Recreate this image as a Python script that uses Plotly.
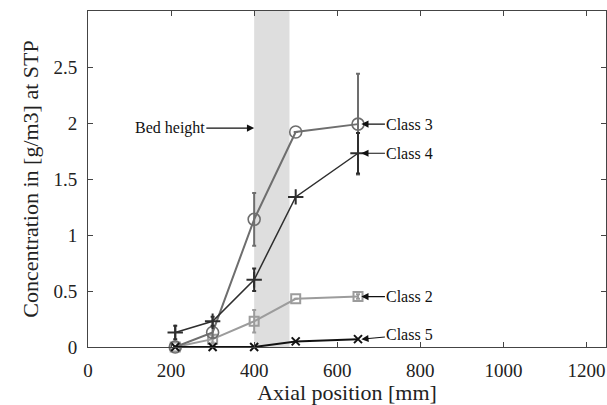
import plotly.graph_objects as go

# Data
x_pos = [210, 300, 400, 500, 650]
class2 = [0.0, 0.07, 0.23, 0.43, 0.45]
class2_err = [0.0, 0.03, 0.10, 0.0, 0.02]
class3 = [0.0, 0.13, 1.14, 1.92, 1.99]
class3_err = [0.0, 0.05, 0.235, 0.0, 0.45]
class4 = [0.13, 0.23, 0.60, 1.34, 1.73]
class4_err = [0.06, 0.04, 0.10, 0.0, 0.18]
class5 = [0.0, 0.0, 0.0, 0.05, 0.07]

bed_start, bed_end = 400, 485
x_ticks = [0, 200, 400, 600, 800, 1000, 1200]
y_ticks = [0, 0.5, 1, 1.5, 2, 2.5]

FONT = "Liberation Serif"

fig = go.Figure()

fig.add_shape(type="rect", x0=bed_start, x1=bed_end, y0=0, y1=1,
              xref="x", yref="y domain", fillcolor="#dedede",
              line=dict(width=0), layer="below")

def add_series(y, err, color, symbol, size, lw, mlw):
    fig.add_trace(go.Scatter(
        x=x_pos, y=y, mode="lines+markers",
        line=dict(color=color, width=lw),
        marker=dict(symbol=symbol, size=size, color=color,
                    line=dict(color=color, width=mlw)),
        error_y=dict(type="data", array=err, visible=True,
                     color=color, thickness=2, width=2) if err is not None else None,
        showlegend=False, cliponaxis=False))

add_series(class2, class2_err, "#9c9c9c", "square-open", 9, 2, 2)
add_series(class3, class3_err, "#6e6e6e", "circle-open", 12, 2, 1.6)
add_series(class4, class4_err, "#2e2e2e", "cross-thin-open", 11, 1.5, 2)
add_series(class5, None, "#111111", "x-thin-open", 8, 2, 2)

labels = [("Class 3", class3[-1]), ("Class 4", class4[-1]),
          ("Class 2", class2[-1]), ("Class 5", class5[-1])]
for name, yv in labels:
    ty = yv + (0.04 if name == "Class 5" else 0)
    fig.add_annotation(x=x_pos[-1] + 8, y=yv, xref="x", yref="y",
                       ax=775, ay=ty, axref="x", ayref="y",
                       text=name, showarrow=True, arrowhead=2, arrowsize=1.2,
                       arrowwidth=1.2, arrowcolor="#111", standoff=0,
                       font=dict(family=FONT, size=16, color="#111"))

fig.add_annotation(x=bed_start, y=1.955, xref="x", yref="y",
                   ax=197, ay=1.955, axref="x", ayref="y",
                   text="Bed height", showarrow=True, arrowhead=2, arrowsize=1.2,
                   arrowwidth=1.2, arrowcolor="#111", standoff=0,
                   font=dict(family=FONT, size=16, color="#111"))

axis_common = dict(showline=True, linecolor="#444", linewidth=1, mirror="ticks",
                   ticks="inside", ticklen=5, tickcolor="#444", tickwidth=1,
                   showgrid=False, zeroline=False,
                   tickfont=dict(family=FONT, size=19, color="#222"))

fig.update_xaxes(range=[0, 1247], tickvals=x_ticks,
                 title=dict(text="Axial position [mm]", standoff=4,
                            font=dict(family=FONT, size=22, color="#222")),
                 ticklabelstandoff=6, **axis_common)
fig.update_yaxes(range=[0, 3.0], tickvals=y_ticks,
                 title=dict(text="Concentration in [g/m3] at STP", standoff=8,
                            font=dict(family=FONT, size=22, color="#222")),
                 ticklabelstandoff=6, **axis_common)

fig.update_layout(width=607, height=405, plot_bgcolor="white", paper_bgcolor="white",
                  margin=dict(l=88, r=1, t=11, b=58))

fig.write_html("out.html", config={"displayModeBar": False},
               post_script="document.body.style.margin='0';document.body.style.padding='0';")
